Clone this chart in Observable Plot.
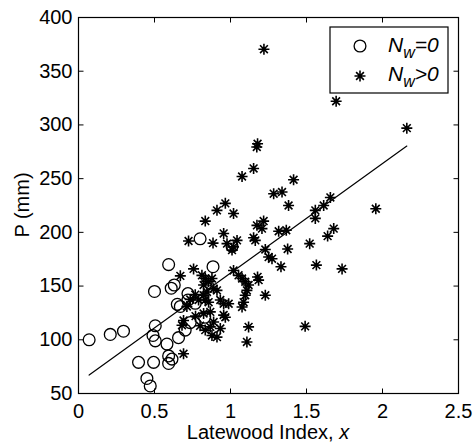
<!DOCTYPE html>
<html>
<head>
<meta charset="utf-8">
<script src="https://cdn.jsdelivr.net/npm/d3@7"></script>
<script src="https://cdn.jsdelivr.net/npm/@observablehq/plot@0.6"></script>
<style>
  html, body { margin: 0; padding: 0; background: #fff; }
  #chart svg { display: block; }
</style>
</head>
<body>
<div id="chart"></div>
<script>
// ---- Data ----
// N_w = 0 (open circles)
const nw0X = [0.07, 0.209, 0.296, 0.395, 0.45, 0.472, 0.494, 0.505, 0.49, 0.505, 0.50, 0.582, 0.593, 0.615, 0.593, 0.658, 0.702, 0.735, 0.593, 0.61, 0.63, 0.65, 0.67, 0.72, 0.72, 0.80, 0.885, 0.83, 1.01, 0.768];
const nw0P = [100, 105, 108, 79, 64, 57, 79, 113, 104, 99, 145, 96, 85, 82, 78, 102, 109, 116, 170, 148, 151, 133, 131, 143, 137, 194, 168, 121, 187, 134];

// N_w > 0 (asterisks)
const nwPosX = [1.22, 1.695, 2.16, 1.956, 1.178, 1.173, 1.152, 1.076, 1.415, 1.284, 1.339, 1.382, 0.966, 0.911, 1.02, 0.834, 1.657, 1.613, 1.558, 1.558, 1.174, 1.218, 1.207, 1.317, 1.367, 1.679, 1.639, 1.152, 1.163, 1.043, 1.02, 1.01, 1.521, 1.376, 1.229, 1.251, 1.273, 1.332, 1.565, 1.734, 0.724, 0.885, 0.955, 0.977,
  0.757, 0.67, 0.812, 0.834, 0.856, 0.823, 0.878, 0.889, 0.911, 0.845, 0.823, 0.834, 0.856, 0.79, 0.933, 0.955, 0.988, 0.955, 0.966, 0.867, 0.823, 0.889, 0.867, 0.834, 0.933, 0.878, 0.911, 0.691, 0.681, 0.691,
  1.02, 1.053, 1.076, 1.097, 1.119, 1.108, 1.097, 1.086, 1.076, 1.178, 1.185, 1.229, 1.119, 1.108, 1.491, 0.768, 0.735, 0.713, 0.80, 0.77];
const nwPosP = [370.5, 322, 297, 222, 282.5, 279.5, 259.5, 252, 249, 236, 237.5, 225, 227, 220.5, 217.5, 210.5, 232.5, 225, 220.5, 213, 206.5, 210.5, 203.5, 201, 202, 203.5, 196.5, 195, 192.5, 192.5, 186.5, 183.5, 189.5, 184.5, 184, 177, 175.5, 168, 169.5, 166, 192, 190, 199, 189.5,
  166, 159.5, 160, 157, 154, 151, 157, 147.5, 146, 144.5, 141.5, 137, 135, 137, 137, 133.5, 133.5, 123, 121, 126, 124.5, 116.5, 112, 109, 110.5, 104, 102.5, 118, 113.5, 87,
  164.5, 160, 157, 154, 151, 146, 141.5, 135, 130.5, 158.5, 155.5, 141.5, 112, 98, 112.5, 142, 137.5, 131, 113, 122];

// Least-squares fit line  P = a + b x
const fitX = [0.07, 2.16];
const fitIntercept = 60;
const fitSlope = 102;

const xTicks = [0, 0.5, 1, 1.5, 2, 2.5];
const yTicks = [50, 100, 150, 200, 250, 300, 350, 400];

// ---- Build tables ----
const nw0 = nw0X.map((x, i) => ({x, p: nw0P[i]}));
const nwPos = nwPosX.map((x, i) => ({x, p: nwPosP[i]}));
const fit = fitX.map(x => ({x, p: fitIntercept + fitSlope * x}));

// MATLAB-style 8-spoke asterisk
const star8 = {
  draw(ctx, size) {
    const r = Math.sqrt(size / Math.PI);
    const d = r * Math.SQRT1_2;
    ctx.moveTo(-r, 0); ctx.lineTo(r, 0);
    ctx.moveTo(0, -r); ctx.lineTo(0, r);
    ctx.moveTo(-d, -d); ctx.lineTo(d, d);
    ctx.moveTo(-d, d); ctx.lineTo(d, -d);
  }
};
const T = 5; // inward tick length
const tickUp = {draw(c){ c.moveTo(0,0); c.lineTo(0,-T); }};
const tickDown = {draw(c){ c.moveTo(0,0); c.lineTo(0,T); }};
const tickRight = {draw(c){ c.moveTo(0,0); c.lineTo(T,0); }};
const tickLeft = {draw(c){ c.moveTo(0,0); c.lineTo(-T,0); }};

const FONT = "'Liberation Sans', Arial, Helvetica, sans-serif";
const STAR_R = 5.5;

const chart = Plot.plot({
  width: 473,
  height: 444,
  marginLeft: 78,
  marginRight: 15,
  marginTop: 17,
  marginBottom: 51,
  style: {fontFamily: FONT, fontSize: "20px", color: "black", background: "white"},
  x: {domain: [0, 2.5], ticks: xTicks, tickFormat: d => String(d)},
  y: {domain: [50, 400], ticks: yTicks, tickFormat: d => String(d)},
  marks: [
    Plot.frame({stroke: "black", strokeWidth: 1.2}),
    Plot.axisX({ticks: xTicks, tickSize: 0, tickPadding: 10, label: null, fontSize: 20, tickFormat: d => String(d)}),
    Plot.axisY({ticks: yTicks, tickSize: 0, tickPadding: 6, label: null, fontSize: 20, tickFormat: d => String(d)}),
    Plot.dot(xTicks, {x: d => d, frameAnchor: "bottom", symbol: tickUp, r: 3, stroke: "black", strokeWidth: 1}),
    Plot.dot(xTicks, {x: d => d, frameAnchor: "top", symbol: tickDown, r: 3, stroke: "black", strokeWidth: 1}),
    Plot.dot(yTicks, {y: d => d, frameAnchor: "left", symbol: tickRight, r: 3, stroke: "black", strokeWidth: 1}),
    Plot.dot(yTicks, {y: d => d, frameAnchor: "right", symbol: tickLeft, r: 3, stroke: "black", strokeWidth: 1}),
    Plot.line(fit, {x: "x", y: "p", stroke: "black", strokeWidth: 1.2}),
    Plot.dot(nw0, {x: "x", y: "p", r: 5.9, stroke: "black", strokeWidth: 1.3, fill: "none"}),
    Plot.dot(nwPos, {x: "x", y: "p", symbol: star8, r: STAR_R, stroke: "black", strokeWidth: 1.6, fill: "none"})
  ]
});

document.getElementById("chart").appendChild(chart);

// ---- Axis titles and legend ----
const svg = d3.select(chart);
svg.append("text")
  .attr("x", 268).attr("y", 439)
  .attr("text-anchor", "middle")
  .attr("font-family", FONT).attr("font-size", 20).attr("fill", "black")
  .text("Latewood Index, ")
  .append("tspan").attr("font-style", "italic").text("x");

svg.append("text")
  .attr("transform", "translate(29,205) rotate(-90)")
  .attr("text-anchor", "middle")
  .attr("font-family", FONT).attr("font-size", 20).attr("fill", "black")
  .text("P (mm)");

const lg = svg.append("g");
lg.append("rect").attr("x", 330).attr("y", 27).attr("width", 118).attr("height", 66)
  .attr("fill", "white").attr("stroke", "black").attr("stroke-width", 1.2);
lg.append("circle").attr("cx", 360).attr("cy", 46).attr("r", 5.9)
  .attr("fill", "none").attr("stroke", "black").attr("stroke-width", 1.3);
lg.append("path").attr("transform", "translate(360,76)")
  .attr("d", d3.symbol(star8, Math.PI * STAR_R * STAR_R)())
  .attr("fill", "none").attr("stroke", "black").attr("stroke-width", 1.6);

function legendLabel(y, rest) {
  const t = lg.append("text").attr("x", 388).attr("y", y)
    .attr("text-anchor", "start")
    .attr("font-family", FONT).attr("font-size", 21).attr("font-style", "italic").attr("fill", "black");
  t.append("tspan").text("N");
  t.append("tspan").attr("dy", 6).attr("font-size", 16).text("w");
  t.append("tspan").attr("dy", -6).text(rest);
}
legendLabel(52, "=0");
legendLabel(81, ">0");
</script>
</body>
</html>
